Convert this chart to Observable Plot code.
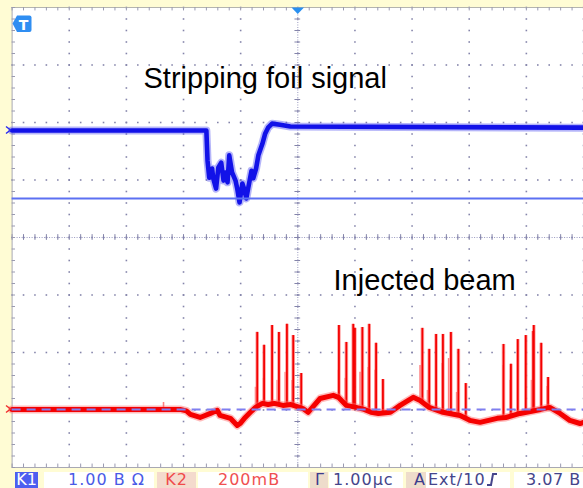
<!DOCTYPE html>
<html>
<head>
<meta charset="utf-8">
<script src="https://cdn.jsdelivr.net/npm/d3@7"></script>
<script src="https://cdn.jsdelivr.net/npm/@observablehq/plot@0.6"></script>
<style>
  body { margin: 0; background: #fffcd4; width: 583px; height: 488px; overflow: hidden; position: relative; }
  #chart { position: absolute; left: 0; top: 0; }
  #overlay { position: absolute; left: 0; top: 0; pointer-events: none; }
  #status { position: absolute; left: 0; top: 468px; width: 583px; height: 20px; background: #fffcd4;
            font-family: "DejaVu Sans", sans-serif; font-size: 16px; letter-spacing: 1px; }
  #status .box { position: absolute; top: 4px; height: 16px; line-height: 16px; white-space: nowrap; }
</style>
</head>
<body>
<div id="chart"></div>
<svg id="overlay" width="583" height="488">
  <path d="M12.5,23.5 L17,15.5 H29.5 Q31.5,15.5 31.5,17.5 V30 Q31.5,32 29.5,32 H17 Z" fill="#2f8ef2"/>
  <text x="23.5" y="29.5" fill="white" font-family="DejaVu Sans" font-weight="bold" font-size="14" text-anchor="middle">T</text>
  <path d="M291.5,7.5 H304 L297.7,14 Z" fill="#2a90f0"/>
  <path d="M6,126.5 L10.5,130 L6,133.5" fill="none" stroke="#2a2af0" stroke-width="1.5"/>
  <path d="M6,405.5 L10.5,409 L6,412.5" fill="none" stroke="#f03030" stroke-width="1.5"/>
</svg>
<div id="status">
  <div class="box" style="left:15px;width:23px;background:#4d5ff0;color:#ffffff;text-align:center;letter-spacing:0">K1</div>
  <div class="box" style="left:44px;width:110px;background:#ffffff;color:#4a5ae6;padding-left:24px;box-sizing:border-box">1.00 В Ω</div>
  <div class="box" style="left:157px;width:39px;background:#f4dacd;color:#f04a4a;text-align:center">K2</div>
  <div class="box" style="left:198px;width:110px;background:#ffffff;color:#f05050;padding-left:20px;box-sizing:border-box">200mВ</div>
  <div class="box" style="left:310px;width:18px;background:#eedccb;color:#3c3c8c;padding-left:5px;box-sizing:border-box">Г</div>
  <div class="box" style="left:329px;width:74px;background:#ffffff;color:#45458a;padding-left:4px;box-sizing:border-box">1.00µс</div>
  <div class="box" style="left:406px;width:20px;background:#eedccb;color:#3c3c8c;padding-left:8px;box-sizing:border-box">А</div>
  <div class="box" style="left:426px;width:84px;background:#ffffff;color:#45458a;padding-left:2px;box-sizing:border-box">Ext/10<svg width="12" height="14" style="vertical-align:-1px"><path d="M1,13 H5 L7,2 H11" fill="none" stroke="#45458a" stroke-width="2"/></svg></div>
  <div class="box" style="left:514px;width:69px;background:#ffffff;color:#45458a;padding-left:12px;letter-spacing:0.5px;box-sizing:border-box">3.07 В</div>
</div>
<script>
// ---- scope settings ----
const timeDomain = [-5, 5];     // µs (1.00 µs/div, 10 div)
const divDomain = [-4, 4];      // vertical divisions
const ch1OffsetDiv = 1.86;      // K1 ground position (div)
const ch1PerDiv = 1;            // V/div
const ch1Cursor = -1.18;        // V, level line of K1
const ch2OffsetDiv = -2.99;     // K2 ground position (div)
const ch2PerDiv = 200;          // mV/div

// ---- K1: stripping foil signal (time µs, V) ----
const foilT = [-5.00, -1.60, -1.58, -1.55, -1.50, -1.48, -1.43, -1.39, -1.34, -1.30,
               -1.27, -1.23, -1.20, -1.15, -1.09, -1.06, -1.02, -0.97, -0.94, -0.90,
               -0.87, -0.81, -0.78, -0.73, -0.69, -0.62, -0.57, -0.52, -0.45, -0.31,
               -0.13, 5.00];
const foilV = [0.00, 0.00, -0.52, -0.82, -0.66, -0.83, -1.01, -0.64, -0.56, -0.87,
               -0.73, -0.90, -0.43, -0.73, -0.87, -1.01, -1.25, -0.92, -1.01, -1.18,
               -1.01, -0.70, -0.83, -0.66, -0.43, -0.23, -0.05, 0.05, 0.12, 0.10,
               0.07, 0.05];

// ---- K2: injected beam baseline (time µs, mV) ----
const beamT = [-5.00, -3.45, -2.06, -1.95, -1.88, -1.71, -1.53, -1.41, -1.36, -1.18,
               -1.06, -1.01, -0.92, -0.83, -0.74, -0.62, -0.52, -0.41, -0.26, -0.12,
               -0.01, 0.09, 0.18, 0.39, 0.62, 0.71, 0.85, 1.02, 1.16, 1.28,
               1.41, 1.62, 1.79, 2.02, 2.14, 2.30, 2.54, 2.84, 3.01, 3.19,
               3.49, 3.64, 3.89, 4.25, 4.41, 4.59, 4.76, 4.94, 5.00];
const beamMV = [0, 0, 0, -5, -17, -28, -14, -3, -21, -31,
                -56, -49, -28, -10, 7, 21, 17, 21, 14, 17,
                10, 3, -10, 38, 49, 42, 14, 7, 0, -10,
                -14, -10, 14, 42, 31, 7, -10, -21, -38, -45,
                -31, -28, -14, 0, 7, -14, -38, -49, -45];

// ---- K2: bunch spikes (time µs, peak mV, foot mV) ----
const spikeT    = [-0.71, -0.59, -0.45, -0.33, -0.19, -0.08, 0.06, 0.72, 0.85, 0.97,
                   1.00, 1.13, 1.25, 1.37, 1.49, 2.18, 2.30, 2.42, 2.54, 2.68,
                   2.81, 2.94, 3.60, 3.73, 3.85, 3.99, 4.12, 4.13, 4.26, 4.38];
const spikePeak = [268, 223, 292, 268, 296, 257, 125, 292, 233, 296,
                   282, 285, 296, 230, 104, 282, 209, 261, 261, 268,
                   209, 90, 226, 157, 243, 257, 271, 292, 230, 111];
const spikeFoot = [7, 21, 17, 21, 14, 17, 7, 42, 14, 10,
                   7, 3, -7, -14, -14, 28, 7, 0, -10, -14,
                   -21, -28, -28, -21, -14, -10, -3, -3, 0, 7];
// smaller side pulses
const sideT    = [-2.35, -0.74, -0.60, -0.36, -0.22, -0.10, 0.71, 0.83, 1.09, 1.23,
                  1.35, 2.14, 2.27, 2.52, 2.64, 2.78, 3.59, 3.71, 4.09, 4.36];
const sidePeak = [24, 77, 108, 101, 129, 101, 136, 108, 129, 146,
                  136, 153, 66, 160, 177, 59, 153, 101, 101, 80];
const sideFoot = [0, 7, 21, 21, 14, 17, 42, 14, 5, -5,
                  -12, 30, 7, -8, -12, -20, -28, -21, -3, 5];

const labels = [
  {t: -2.70, div: 2.60, text: "Stripping foil signal"},
  {t: 0.625, div: -0.92, text: "Injected beam"}
];

// ---- derived tables ----
const d1 = v => ch1OffsetDiv + v / ch1PerDiv;
const d2 = v => ch2OffsetDiv + v / ch2PerDiv;
const foil = foilT.map((t, i) => ({t, y: d1(foilV[i])}));
const beam = beamT.map((t, i) => ({t, y: d2(beamMV[i])}));
const spikes = spikeT.map((t, i) => ({t, y1: d2(spikeFoot[i]), y2: d2(spikePeak[i])}));
const sides = sideT.map((t, i) => ({t, y1: d2(sideFoot[i]), y2: d2(sidePeak[i])}));

const minorX = d3.range(-25, 26).map(i => i / 5);
const minorY = d3.range(-20, 21).map(i => i / 5);
const gridDots = [];
for (const y of d3.range(-3, 4)) for (const x of minorX) gridDots.push({x, y});
for (const x of d3.range(-4, 6)) for (const y of minorY) gridDots.push({x, y});

const gridColor = "#8484aa";
const plot = Plot.plot({
  width: 583, height: 468,
  marginLeft: 11.6, marginRight: 0, marginTop: 7, marginBottom: 1,
  x: {domain: timeDomain, axis: null},
  y: {domain: divDomain, axis: null},
  style: {background: "transparent", overflow: "visible"},
  marks: [
    Plot.frame({fill: "white", stroke: "none"}),
    Plot.dot(gridDots, {x: "x", y: "y", r: 0.9, fill: gridColor, stroke: "none", symbol: "square"}),
    // center axes
    Plot.ruleX([0], {stroke: "#9a9ac0", strokeWidth: 1, strokeDasharray: "1,1.5"}),
    Plot.ruleY([0], {stroke: "#9a9ac0", strokeWidth: 1, strokeDasharray: "1,1.5"}),
    Plot.ruleY(minorY, {y: d => d, x1: () => -0.05, x2: () => 0.05, stroke: gridColor}),
    Plot.ruleX(minorX, {x: d => d, y1: () => -0.05, y2: () => 0.05, stroke: gridColor}),
    // borders with ticks
    Plot.ruleX([-5], {stroke: "#a8a8b4"}),
    Plot.ruleY([4], {stroke: "#b4b4ae"}),
    Plot.ruleY([-4], {stroke: "#a8a8b4"}),
    Plot.ruleY(minorY, {y: d => d, x1: () => -5, x2: () => -4.94, stroke: "#9a9ab0"}),
    Plot.ruleX(minorX, {x: d => d, y1: () => 4, y2: () => 3.94, stroke: "#9a9ab0"}),
    Plot.ruleX(minorX, {x: d => d, y1: () => -4, y2: () => -3.94, stroke: "#9a9ab0"}),
    // K2 trace
    Plot.ruleX(sides, {x: "t", y1: "y1", y2: "y2", stroke: "#ff8080", strokeWidth: 1.6}),
    Plot.ruleX(spikes, {x: "t", y1: "y1", y2: "y2", stroke: "#ff9090", strokeWidth: 3.6, strokeOpacity: 0.8}),
    Plot.ruleX(spikes, {x: "t", y1: "y1", y2: "y2", stroke: "#f40000", strokeWidth: 1.8}),
    Plot.line(beam, {x: "t", y: "y", stroke: "#ff6a6a", strokeWidth: 8, strokeOpacity: 0.45}),
    Plot.line(beam, {x: "t", y: "y", stroke: "#f50000", strokeWidth: 5}),
    // K1 trace
    Plot.line(foil, {x: "t", y: "y", stroke: "#5a5af2", strokeWidth: 8, strokeOpacity: 0.45}),
    Plot.line(foil, {x: "t", y: "y", stroke: "#1212e8", strokeWidth: 4.6}),
    // reference lines
    Plot.ruleY([d1(ch1Cursor)], {stroke: "#5c70f2", strokeWidth: 2}),
    Plot.ruleY([ch2OffsetDiv], {stroke: "#7f7ff0", strokeWidth: 2, strokeDasharray: "9,6"}),
    // labels
    Plot.text(labels, {x: "t", y: "div", text: "text", textAnchor: "start", lineAnchor: "bottom",
                       fontSize: 29, fontFamily: "Liberation Sans, Arial, sans-serif", fill: "black"})
  ]
});
document.getElementById("chart").appendChild(plot);
</script>
</body>
</html>
